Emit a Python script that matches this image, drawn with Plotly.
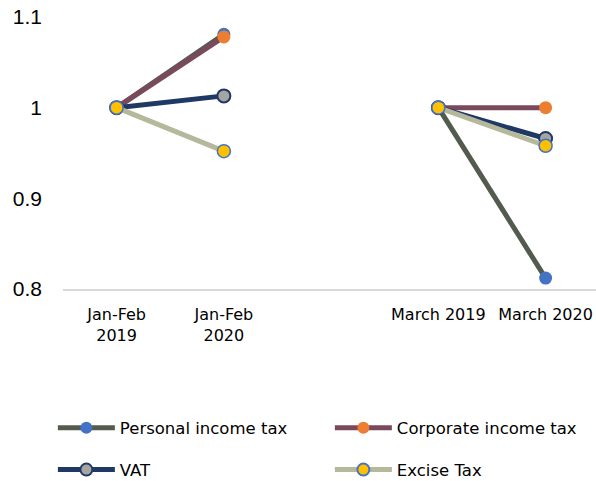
import plotly.graph_objects as go

categories = ["Jan-Feb<br>2019", "Jan-Feb<br>2020", " ", "March 2019", "March 2020"]
personal_income_tax = [1.0, 1.081, None, 1.0, 0.812]
corporate_income_tax = [1.0, 1.078, None, 1.0, 1.0]
vat = [1.0, 1.013, None, 1.0, 0.966]
excise_tax = [1.0, 0.952, None, 1.0, 0.958]
y_ticks = [0.8, 0.9, 1.0, 1.1]
y_tick_labels = ["0.8", "0.9", "1", "1.1"]

series = [
    ("Personal income tax", personal_income_tax, "#525b4d", "#4472c4", "#4472c4", 0, "legend"),
    ("Corporate income tax", corporate_income_tax, "#7a4a5c", "#ed7d31", "#ed7d31", 0, "legend"),
    ("VAT", vat, "#1f3864", "#a5a5a5", "#1f3864", 2, "legend2"),
    ("Excise Tax", excise_tax, "#b5b89a", "#ffc000", "#4472c4", 1.5, "legend2"),
]

fig = go.Figure()
for name, vals, lc, mc, mlc, mlw, lg in series:
    fig.add_trace(go.Scatter(
        x=categories, y=vals, name=name, mode="lines+markers",
        connectgaps=False, legend=lg,
        line=dict(color=lc, width=5),
        marker=dict(color=mc, size=13, line=dict(color=mlc, width=mlw)),
        cliponaxis=False,
    ))

leg_common = dict(
    orientation="h", xanchor="left", yanchor="middle",
    entrywidth=205, entrywidthmode="pixels", itemwidth=57,
    font=dict(family="DejaVu Sans", size=16.5, color="#000000"),
    itemsizing="constant", bgcolor="rgba(0,0,0,0)",
)

fig.update_layout(
    width=596, height=481,
    margin=dict(l=63, r=0, t=17, b=192, autoexpand=False),
    plot_bgcolor="white", paper_bgcolor="white",
    font=dict(family="DejaVu Sans", size=16, color="#000000"),
    showlegend=True,
    legend=dict(x=-0.019, y=-0.511, **leg_common),
    legend2=dict(x=-0.019, y=-0.665, **leg_common),
    xaxis=dict(
        type="category", categoryorder="array", categoryarray=categories,
        range=[-0.5, 4.47],
        showgrid=False, showline=True, linecolor="#d9d9d9", linewidth=2,
        ticks="", ticklabelstandoff=10,
        tickfont=dict(family="DejaVu Sans", size=16, color="#000000"),
        zeroline=False,
    ),
    yaxis=dict(
        range=[0.8, 1.1], tickvals=y_ticks, ticktext=y_tick_labels,
        showgrid=False, showline=False, zeroline=False, ticks="",
        ticklabelstandoff=20,
        tickfont=dict(family="Liberation Sans", size=21, color="#000000"),
    ),
)

fig.write_html("out.html", config={"displayModeBar": False},
               post_script="document.body.style.margin='0';document.body.style.overflow='hidden';")
